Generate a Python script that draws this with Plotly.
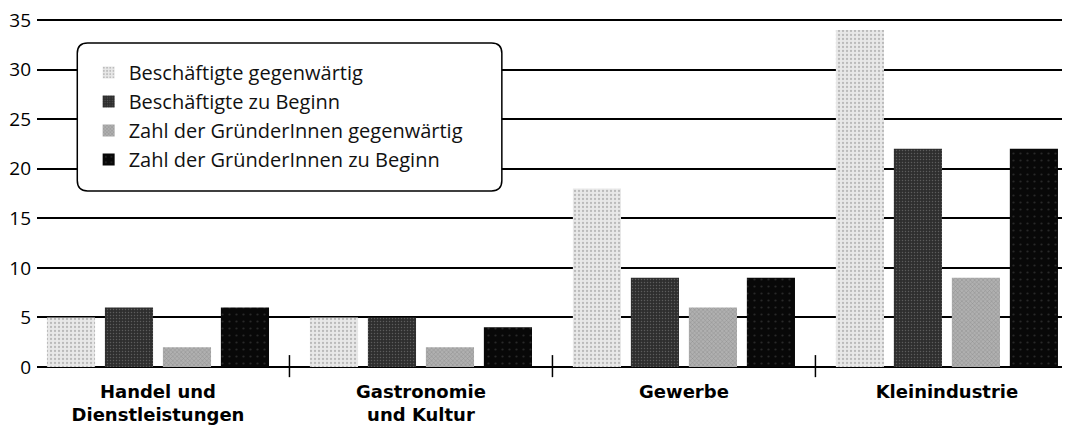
import plotly.graph_objects as go

categories = ["Handel und<br>Dienstleistungen", "Gastronomie<br>und Kultur", "Gewerbe", "Kleinindustrie"]
series_names = ["Beschäftigte gegenwärtig", "Beschäftigte zu Beginn",
                "Zahl der GründerInnen gegenwärtig", "Zahl der GründerInnen zu Beginn"]
beschaeftigte_gegenwaertig = [5, 5, 18, 34]
beschaeftigte_beginn = [6, 5, 9, 22]
gruender_gegenwaertig = [2, 2, 6, 9]
gruender_beginn = [6, 4, 9, 22]
y_ticks = [0, 5, 10, 15, 20, 25, 30, 35]

# stipple look of the printed original
styles = [
    dict(color="#dcdcdc", pattern=dict(shape=".", fgcolor="#8c8c8c", bgcolor="#e8e8e8", size=4, solidity=0.25)),
    dict(color="#333333", pattern=dict(shape=".", fgcolor="#8a8a8a", bgcolor="#2e2e2e", size=3, solidity=0.2)),
    dict(color="#a4a4a4", pattern=dict(shape="x", fgcolor="#6a6a6a", bgcolor="#b0b0b0", size=3, solidity=0.3)),
    dict(color="#080808", pattern=dict(shape=".", fgcolor="#4a4a4a", bgcolor="#080808", size=7, solidity=0.08)),
]

x_idx = list(range(len(categories)))
fig = go.Figure()
for name, vals, st in zip(series_names,
                          [beschaeftigte_gegenwaertig, beschaeftigte_beginn, gruender_gegenwaertig, gruender_beginn],
                          styles):
    fig.add_trace(go.Bar(x=x_idx, y=vals, name=name,
                         marker=dict(color=st["color"], pattern=st["pattern"], line_width=0)))

# rounded box behind the legend
x0, x1, y0, y1, r = 0.039, 0.450, 0.503, 0.926, 0.010
ry = r * 1033 / 350
path = (f"M {x0+r},{y1} L {x1-r},{y1} Q {x1},{y1} {x1},{y1-ry} L {x1},{y0+ry} Q {x1},{y0} {x1-r},{y0} "
        f"L {x0+r},{y0} Q {x0},{y0} {x0},{y0+ry} L {x0},{y1-ry} Q {x0},{y1} {x0+r},{y1} Z")
fig.add_shape(type="path", path=path, xref="paper", yref="paper", layer="above",
              fillcolor="white", line=dict(color="black", width=1.5))

# divider ticks between categories
for i in x_idx[:-1]:
    fig.add_shape(type="line", xref="x", yref="paper", x0=i + 0.5, x1=i + 0.5, y0=-0.029, y1=0.034,
                  line=dict(color="black", width=1.5))

# page body has an 8px margin, so the figure is 8px smaller than the window
fig.update_layout(
    width=1062, height=418,
    margin=dict(l=29, r=0, t=9, b=59),
    plot_bgcolor="white", paper_bgcolor="white",
    barmode="group", bargap=0.118, bargroupgap=0.17,
    showlegend=True,
    legend=dict(x=0.050, y=0.897, xanchor="left", yanchor="top", bgcolor="rgba(0,0,0,0)",
                font=dict(family="Open Sans", size=20, color="#111"), traceorder="normal",
                itemwidth=30, tracegroupgap=0),
    font=dict(family="Open Sans", color="black"),
)
fig.update_xaxes(range=[-0.46, 3.468], tickvals=x_idx, ticktext=categories,
                 showgrid=False, ticks="", ticklabelstandoff=12, automargin=False,
                 tickfont=dict(family="DejaVu Sans", size=18, weight="bold", color="black"))
fig.update_yaxes(range=[0, 35.3], tickvals=y_ticks, showgrid=True, gridcolor="black", gridwidth=1.5,
                 zeroline=True, zerolinecolor="black", zerolinewidth=1.5, ticklabelstandoff=5,
                 automargin=False, ticklabeloverflow="allow",
                 tickfont=dict(family="Open Sans", size=19, color="black"))

fig.write_html("out.html")
